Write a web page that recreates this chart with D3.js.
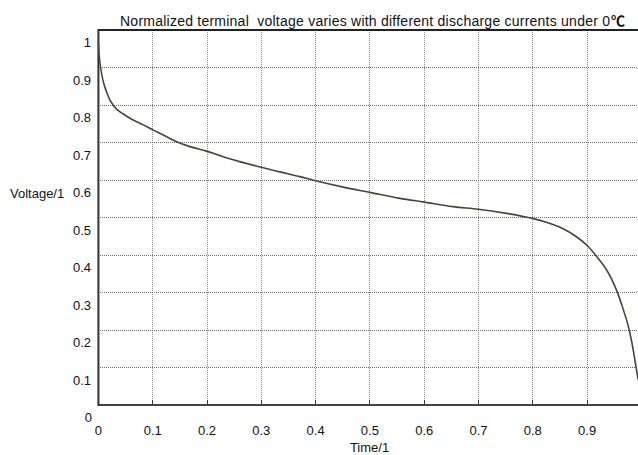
<!DOCTYPE html>
<html>
<head>
<meta charset="utf-8">
<script src="https://cdn.jsdelivr.net/npm/d3@7"></script>
<style>
  html, body { margin: 0; padding: 0; background: #fff; }
  svg { display: block; font-family: "Liberation Sans", Arial, sans-serif; }
</style>
</head>
<body>
<svg id="chart" width="638" height="455"></svg>
<script>
const timeVals = [0, 0.001, 0.004, 0.009, 0.015, 0.0225, 0.0335, 0.0457, 0.064, 0.0826, 0.101, 0.1195, 0.144, 0.1685, 0.199, 0.224, 0.26, 0.3, 0.336, 0.371, 0.4, 0.451, 0.5, 0.555, 0.6, 0.653, 0.7, 0.752, 0.801, 0.832, 0.856, 0.881, 0.901, 0.917, 0.936, 0.954, 0.967, 0.975, 0.982, 0.988, 0.994];
const voltageVals = [0.968, 0.94, 0.9, 0.862, 0.835, 0.81, 0.789, 0.776, 0.76, 0.747, 0.733, 0.72, 0.702, 0.689, 0.677, 0.665, 0.649, 0.634, 0.621, 0.609, 0.598, 0.581, 0.567, 0.551, 0.541, 0.529, 0.522, 0.511, 0.497, 0.484, 0.47, 0.448, 0.424, 0.397, 0.36, 0.307, 0.253, 0.215, 0.17, 0.12, 0.068];
const xTicks = [0, 0.1, 0.2, 0.3, 0.4, 0.5, 0.6, 0.7, 0.8, 0.9];
const yTicks = [0, 0.1, 0.2, 0.3, 0.4, 0.5, 0.6, 0.7, 0.8, 0.9, 1];
const titleText = "Normalized terminal  voltage varies with different discharge currents under 0";
const titleUnit = "\u2103";
const xLabel = "Time/1";
const yLabel = "Voltage/1";

const svg = d3.select("#chart");
const x = d3.scaleLinear().domain([0, 1]).range([98.4, 641.4]);
const y = d3.scaleLinear().domain([0, 1]).range([405, 30]);

// grid
svg.append("g").selectAll("line").data(xTicks.filter(d => d > 0)).join("line")
  .attr("x1", d => x(d)).attr("x2", d => x(d))
  .attr("y1", y(0)).attr("y2", y(1))
  .attr("stroke", "#8a8a8a").attr("stroke-width", 1).attr("stroke-dasharray", "1,1")
  .attr("shape-rendering", "crispEdges");
svg.append("g").selectAll("line").data(yTicks.filter(d => d > 0 && d < 1)).join("line")
  .attr("x1", x(0)).attr("x2", 638)
  .attr("y1", d => y(d)).attr("y2", d => y(d))
  .attr("stroke", "#6a6a6a").attr("stroke-width", 1).attr("stroke-dasharray", "1,1")
  .attr("shape-rendering", "crispEdges");

// small inner ticks on bottom axis
svg.append("g").selectAll("line").data(xTicks.filter(d => d > 0)).join("line")
  .attr("x1", d => x(d)).attr("x2", d => x(d))
  .attr("y1", y(0)).attr("y2", y(0) - 5)
  .attr("stroke", "#333").attr("stroke-width", 1).attr("shape-rendering", "crispEdges");

// axis frame
svg.append("line").attr("x1", x(0)).attr("x2", 638).attr("y1", y(1)).attr("y2", y(1))
  .attr("stroke", "#222").attr("stroke-width", 2);
svg.append("line").attr("x1", x(0)).attr("x2", 638).attr("y1", y(0)).attr("y2", y(0))
  .attr("stroke", "#444").attr("stroke-width", 2);
svg.append("line").attr("x1", x(0)).attr("x2", x(0)).attr("y1", y(1) - 1).attr("y2", y(0) + 1)
  .attr("stroke", "#333").attr("stroke-width", 2);

// curve
const data = timeVals.map((t, i) => ({ t, v: voltageVals[i] }));
const line = d3.line().x(d => x(d.t)).y(d => y(d.v)).curve(d3.curveCatmullRom.alpha(0.5));
svg.append("path").datum(data)
  .attr("d", line)
  .attr("fill", "none")
  .attr("stroke", "#4a4535")
  .attr("stroke-width", 1.6);

// tick labels
svg.append("g").selectAll("text").data(yTicks).join("text")
  .attr("x", d => d === 0 ? 92 : 91)
  .attr("y", d => y(d) + 17)
  .attr("text-anchor", "end")
  .attr("font-size", 13)
  .attr("fill", "#111")
  .text(d => d3.format("")(d));
svg.append("g").selectAll("text").data(xTicks).join("text")
  .attr("x", d => x(d))
  .attr("y", 435)
  .attr("text-anchor", "middle")
  .attr("font-size", 13)
  .attr("fill", "#111")
  .text(d => d3.format("")(d));

// labels
svg.append("text").attr("x", 10).attr("y", 198).attr("font-size", 13).attr("fill", "#111").text(yLabel);
svg.append("text").attr("x", 369.5).attr("y", 452).attr("text-anchor", "middle").attr("font-size", 13).attr("fill", "#111").text(xLabel);
const title = svg.append("text").attr("y", 25.5).attr("font-size", 14).attr("fill", "#111")
  .style("white-space", "pre");
title.append("tspan").attr("x", 120).attr("textLength", 490).attr("lengthAdjust", "spacing").text(titleText);
title.append("tspan").attr("x", 611).attr("font-family", "'Noto Sans CJK SC', sans-serif").attr("font-weight", "bold")
  .attr("font-size", 14).text(titleUnit);
</script>
</body>
</html>
